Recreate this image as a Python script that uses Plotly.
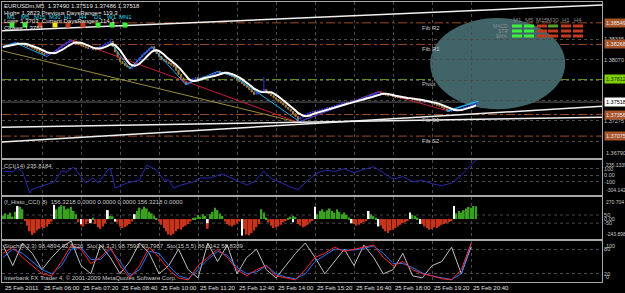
import plotly.graph_objects as go
import pandas as pd
import numpy as np

W, H = 625, 293

# ---------------- data ----------------
tick_idx = [0, 16, 32, 48, 64, 80, 96, 112, 128, 144, 160, 176, 192]
tick_labels = ["25 Feb 2011", "25 Feb 06:00", "25 Feb 07:20", "25 Feb 08:40", "25 Feb 10:00",
               "25 Feb 11:20", "25 Feb 12:40", "25 Feb 14:00", "25 Feb 15:20", "25 Feb 16:40",
               "25 Feb 18:00", "25 Feb 19:20", "25 Feb 20:40"]

close = [1.38235, 1.38250, 1.38262, 1.38270, 1.38285, 1.38292,
         1.38280, 1.38268, 1.38275, 1.38255, 1.38245, 1.38238,
         1.38220, 1.38205, 1.38190, 1.38170, 1.38150, 1.38135,
         1.38145, 1.38160, 1.38150, 1.38175,
         1.38200, 1.38225, 1.38250, 1.38268, 1.38290, 1.38305, 1.38318,
         1.38300, 1.38285, 1.38270, 1.38255, 1.38238,
         1.38225, 1.38215, 1.38220, 1.38205, 1.38199,
         1.38215, 1.38240, 1.38262, 1.38280, 1.38295, 1.38305,
         1.38240, 1.38170, 1.38100, 1.38044,
         1.38020, 1.37995, 1.37975, 1.37954,
         1.37985, 1.38020, 1.38060, 1.38100, 1.38135,
         1.38160, 1.38185, 1.38215, 1.38238,
         1.38200, 1.38150, 1.38110, 1.38070,
         1.38055, 1.38040, 1.38020, 1.38000, 1.37980,
         1.37930, 1.37880, 1.37830, 1.37790, 1.37747,
         1.37770, 1.37795, 1.37820, 1.37837,
         1.37820, 1.37830, 1.37845, 1.37830, 1.37840,
         1.37860, 1.37880, 1.37900, 1.37915,
         1.37905, 1.37890, 1.37900, 1.37880, 1.37865, 1.37850,
         1.37830, 1.37805, 1.37785, 1.37760, 1.37734,
         1.37710, 1.37680, 1.37650, 1.37617,
         1.37640, 1.37660, 1.37650, 1.37682,
         1.37650, 1.37625, 1.37600, 1.37575, 1.37553,
         1.37530, 1.37505, 1.37480, 1.37450, 1.37424,
         1.37400, 1.37365, 1.37330, 1.37294,
         1.37320, 1.37340, 1.37355, 1.37370, 1.37385,
         1.37395, 1.37380, 1.37405, 1.37415, 1.37424,
         1.37430, 1.37445, 1.37440, 1.37460, 1.37470, 1.37480, 1.37490, 1.37501,
         1.37510, 1.37505, 1.37520, 1.37530, 1.37525, 1.37540, 1.37553,
         1.37565, 1.37580, 1.37575, 1.37595, 1.37610, 1.37620, 1.37635, 1.37650,
         1.37630, 1.37620, 1.37610, 1.37600, 1.37605, 1.37590, 1.37579,
         1.37575, 1.37570, 1.37580, 1.37565, 1.37560, 1.37565, 1.37553,
         1.37545, 1.37540, 1.37530, 1.37535, 1.37520, 1.37525, 1.37514,
         1.37500, 1.37490, 1.37475, 1.37465, 1.37450,
         1.37430, 1.37415, 1.37398,
         1.37405, 1.37415, 1.37410, 1.37424,
         1.37435, 1.37445, 1.37455, 1.37465, 1.37475,
         1.37490, 1.37518]

# typed wick extremes (bar index -> price)
spike_idx = [44, 121, 107]
spike_val = [1.38345, 1.37255, 1.37840]

ma_period = 6

zig_cyan_idx = [0, 5, 18]
zig_cyan_val = [1.38238, 1.38290, 1.38110]
zig_blue_idx = [18, 28]
zig_blue_val = [1.38110, 1.38329]
zig_cyan2_idx = [44, 52, 61, 75, 88, 95, 122]
zig_cyan2_val = [1.38303, 1.37954, 1.38238, 1.37747, 1.37915, 1.37850, 1.37255]
zig_blue2_idx = [121, 154]
zig_blue2_val = [1.37255, 1.37650]
zig_red_idx = [28, 121, 154, 183]
zig_red_val = [1.38329, 1.37255, 1.37655, 1.37398]
zig_cyan3_idx = [182, 195]
zig_cyan3_val = [1.37398, 1.37530]
olive_idx = [-0.4, 121]
olive_val = [1.38186, 1.37255]

chan_idx = [-0.4, 245.7]
chan_top = [1.38445, 1.38781]
chan_mid = [1.37191, 1.37320]
chan_low = [1.36997, 1.37462]

pivot_names = ["Fib R2", "Fib R1", "Pivot", "Fib S1", "Fib S2"]
pivot_vals = [1.38549, 1.38268, 1.37812, 1.37356, 1.37075]
pivot_labels = ["1.38549", "1.38268", "1.37812", "1.37356", "1.37075"]
bid = 1.37518

price_ticks = [1.38335, 1.38070, 1.37805, 1.37540, 1.37275, 1.37010]
price_tick_text = ["1.38335", "1.38070", "", "", "1.37275", ""]
price_min, price_max = 1.36790, 1.38820

cci_idx = [0, 4, 6, 8, 11, 12, 16, 21, 24, 26, 29, 34, 37, 39, 43, 44, 46, 51, 56, 59, 63, 66, 68, 70, 73,
           78, 81, 85, 90, 95, 100, 103, 107, 110, 114, 118, 121, 124, 128, 132, 136, 140, 144, 148, 152,
           156, 160, 164, 168, 172, 176, 180, 184, 188, 191, 194]
cci_val = [65, 50, 112, 50, -273, -212, -166, -104, 65, 50, 127, -119, -42, -119, 81, 112, -196, -119, -73,
           158, 81, -73, -73, -196, -150, -104, -42, -42, 20, -60, -150, -100, 60, -50, -120, -180, -220,
           -120, 20, 80, 60, 100, 40, 90, 130, 40, -60, -20, -100, -80, -130, -160, -120, 0, 120, 235]
cci_max, cci_min = 235.1339, -304.142

hist = [40, 70, 55, 80,
        30, 90, 140, 150, 120,
        -20, -80, -150, -195, -170, -140, -120, -100, -110, -90, -60, -30,
        170,
        120, 150, 170, 160, 120, 130, 150, 100, 60,
        -40, -80, -90, -60, -30,
        -50, 20,
        -60, -100, -120, -90, -50,
        100,
        40, 35,
        -30,
        -40, -90, -110, -100, -80, -60, -30,
        40, 100, 140, 120, 150, 130, 90, 70, 40,
        10,
        -30, -70, -110, -150, -190, -200, -180, -150, -120, -130, -100, -80, -60, -30,
        10,
        20, 50, 30, 60, 40,
        -120,
        60, 90, 140, 110, 70, 40,
        -30, -60, -80, -90, -70, -50, -30,
        -200,
        -120, -190, -200, -170, -140, -100, -60,
        120, 80,
        20,
        -40, -80, -110, -100, -90, -70, -40,
        -20, 10,
        30, 40, 25,
        -60, -80,
        -100, -90, -70, -40, -20,
        30, 60, 100, 120, 90, 110, 130, 100, 80, 120, 90, 60, 80, 50, 20,
        -30, -60, -80, -70, -50, -40, -20,
        30, 60, 40, 20,
        -40, -80, -120, -150, -170, -140, -130, -110, -90, -70, -50, -40, -20,
        30, 50, 40, 20,
        -30, -60, -90, -110, -130, -120, -100, -110, -90, -70, -60, -50, -40, -20,
        40, 70, 100, 80, 110, 130, 150, 140, 160, 156]
hist_white_idx = [6, 21, 32, 36, 43, 46, 54, 84, 98, 119, 128, 143, 150, 154, 167, 171, 185]
hist_white_val = [160, 175, -60, -50, 110, -30, 60, -50, -200, -40, 150, -50, 100, -90, 80, -60, 160]
hist_max, hist_min = 270.704, -243.898

stoch_idx = list(range(0, 196, 4))
stoch_red = [70, 85, 60, 40, 20, 15, 50, 90, 80, 45, 60, 85, 40, 10, 40, 85, 60, 30, 10, 5, 40, 60, 80, 60, 30,
             15, 30, 40, 15, 10, 5, 30, 60, 70, 85, 75, 80, 85, 90, 60, 40, 50, 30, 20, 15, 8, 5, 30, 95]
stoch_blue = [60, 80, 70, 50, 30, 20, 40, 80, 85, 55, 55, 80, 50, 15, 30, 75, 70, 40, 15, 8, 30, 55, 75, 65, 35,
              20, 25, 40, 20, 12, 8, 20, 50, 65, 80, 78, 78, 82, 88, 70, 45, 45, 35, 22, 15, 10, 6, 20, 92]
stoch_white = [90, 40, 95, 70, 30, 60, 85, 100, 40, 20, 90, 60, 20, 50, 95, 70, 20, 40, 80, 30, 10, 95, 50, 90, 20,
               60, 80, 30, 10, 40, 70, 95, 60, 20, 50, 80, 40, 90, 60, 20, 30, 70, 15, 10, 40, 50, 85, 20, 86]

tf_names = ["M1", "M5", "M15", "M30", "H1", "H4", "D1", "W1", "MN1"]
tf_states = ["g", "g", "r", "y", "r", "r", "g", "g", "g"]
tbl_cols = ["M1", "M5", "M15", "M30", "H1", "H4"]
tbl_rows = ["MACD", "STR", "EMA"]
tbl_states = [["g", "g", "r", "d", "r", "r"],
              ["g", "g", "r", "r", "r", "r"],
              ["g", "g", "r", "r", "r", "r"]]

# ---------------- layout helpers ----------------
XL, XR = 2, 602
def py(p):
    return 1 - p / H
def pxx(p):
    return p / W

FONT = "Liberation Sans"
GRID = "#4b4b4b"
FRAME = "#a8a8a8"
TXT = "#c8c8c8"
FS = 6
state_col = {"g": "#3cf03c", "r": "#c23a1c", "y": "#f0e020", "d": "#5a9e28"}

idx = list(range(len(close)))
opn = [close[0]] + close[:-1]
high = [max(o, c) for o, c in zip(opn, close)]
low = [min(o, c) for o, c in zip(opn, close)]
for i, v in zip(spike_idx, spike_val):
    high[i] = max(high[i], v)
    low[i] = min(low[i], v)
ma = pd.Series(close).rolling(ma_period, min_periods=1).mean()

fig = go.Figure()

fig.add_trace(go.Candlestick(x=idx, open=opn, high=high, low=low, close=close,
                             increasing=dict(line=dict(color="#3434d8", width=1), fillcolor="#3434d8"),
                             decreasing=dict(line=dict(color="#a57a3c", width=1), fillcolor="#a57a3c"),
                             whiskerwidth=0, xaxis="x", yaxis="y", hoverinfo="skip"))

def line(xs, ys, color, width=1, ax="", dash=None):
    fig.add_trace(go.Scatter(x=xs, y=ys, mode="lines", line=dict(color=color, width=width, dash=dash),
                             xaxis="x" + ax, yaxis="y" + ax, hoverinfo="skip"))

line(olive_idx, olive_val, "#9a8c3c")
line(zig_red_idx, zig_red_val, "#c81e3c")
line(zig_cyan_idx, zig_cyan_val, "#20a8e8")
line(zig_blue_idx, zig_blue_val, "#7a3cd8")
line(zig_cyan2_idx, zig_cyan2_val, "#20a8e8")
line(zig_blue2_idx, zig_blue2_val, "#3040e0")
line(zig_cyan3_idx, zig_cyan3_val, "#20b8f0", 1.5)
line(list(idx), list(ma), "#ffffff", 2)
line(chan_idx, chan_top, "#f0f0f0", 1.5)
line(chan_idx, chan_mid, "#f0f0f0", 1.5)
line(chan_idx, chan_low, "#f0f0f0", 1.5)

# CCI
line(cci_idx, cci_val, "#2828b0", 1, "2")
# Histogram
hcol = ["#3aa020" if v >= 0 else "#c8341a" for v in hist]
fig.add_trace(go.Bar(x=idx, y=hist, marker=dict(color=hcol, line=dict(width=0)), width=0.7,
                     xaxis="x3", yaxis="y3", hoverinfo="skip"))
fig.add_trace(go.Bar(x=hist_white_idx, y=hist_white_val, marker=dict(color="#ffffff", line=dict(width=0)),
                     width=0.7, xaxis="x3", yaxis="y3", hoverinfo="skip"))
# Stoch
line(stoch_idx, stoch_white, "#c0c0c0", 1, "4")
line(stoch_idx, stoch_blue, "#1e78ff", 1, "4")
line(stoch_idx, stoch_red, "#ff2828", 1, "4")

xr = [-0.41, 245.7]
xcommon = dict(range=xr, showticklabels=False, ticks="", tickvals=tick_idx, showgrid=True,
               gridcolor=GRID, griddash="dot", gridwidth=1, showline=True, mirror=True,
               linecolor=FRAME, linewidth=1, zeroline=False, domain=[pxx(XL), pxx(XR)],
               fixedrange=True)
ycommon = dict(side="right", showgrid=True, gridcolor=GRID, griddash="dot", gridwidth=1,
               showline=True, mirror=True, linecolor=FRAME, linewidth=1, zeroline=False,
               ticks="", tickfont=dict(family=FONT, size=5.5, color=TXT), fixedrange=True)

fig.update_layout(
    width=W, height=H, margin=dict(l=0, r=0, t=0, b=0),
    paper_bgcolor="#000000", plot_bgcolor="#000000", showlegend=False, barmode="overlay",
    xaxis=dict(xcommon, anchor="y", rangeslider=dict(visible=False)),
    xaxis2=dict(xcommon, anchor="y2", matches="x"),
    xaxis3=dict(xcommon, anchor="y3", matches="x"),
    xaxis4=dict(xcommon, anchor="y4", matches="x"),
    yaxis=dict(ycommon, anchor="x", domain=[py(158), py(2)], range=[price_min, price_max],
               tickvals=price_ticks, ticktext=price_tick_text),
    yaxis2=dict(ycommon, anchor="x2", domain=[py(195), py(160)], range=[cci_min, cci_max],
                tickvals=[100, 0, -100], ticktext=["100", "0.00", "-100"]),
    yaxis3=dict(ycommon, anchor="x3", domain=[py(239), py(197)], range=[hist_min, hist_max],
                tickvals=[50, 0, -50], ticktext=["50", "0.00", "-50"], showgrid=False),
    yaxis4=dict(ycommon, anchor="x4", domain=[py(282), py(241)], range=[0, 100],
                tickvals=[80, 20], ticktext=["80", "20"]),
)

shapes = []
# histogram dotted levels at +/-50
for lv in [50, -50]:
    shapes.append(dict(type="line", xref="x3 domain", yref="y3", x0=0, x1=1, y0=lv, y1=lv,
                       line=dict(color=GRID, width=1, dash="dot"), layer="below"))
# pivot levels
for name, v in zip(pivot_names, pivot_vals):
    col = "#6b8e23" if name == "Pivot" else "#9a4a22"
    shapes.append(dict(type="line", xref="x domain", yref="y", x0=0, x1=1, y0=v, y1=v,
                       line=dict(color=col, width=1, dash="dashdot"), layer="below"))
shapes.append(dict(type="line", xref="x domain", yref="y", x0=0, x1=1, y0=bid, y1=bid,
                   line=dict(color="#606060", width=1), layer="below"))
# teal ellipse
shapes.append(dict(type="circle", xref="x", yref="y", x0=175.2, x1=230.6, y0=1.37424, y1=1.38613,
                   fillcolor="rgb(64,100,104)", line=dict(width=0), layer="below"))

annotations = []
def txt(x, y, s, color=TXT, size=FS, xanchor="left", yanchor="middle", bg=None):
    annotations.append(dict(x=pxx(x), y=py(y), xref="paper", yref="paper", text=s, showarrow=False,
                            xanchor=xanchor, yanchor=yanchor, font=dict(family=FONT, size=size, color=color),
                            bgcolor=bg, borderpad=0))

# pivot labels on chart
for name, v in zip(pivot_names, pivot_vals):
    annotations.append(dict(x=171, y=v, xref="x", yref="y", text=name, showarrow=False, xanchor="left",
                            yanchor="top", font=dict(family=FONT, size=FS, color=TXT)))
# right-axis colored price labels
for name, v, lab in zip(pivot_names, pivot_vals, pivot_labels):
    bg = "#7fd000" if name == "Pivot" else "#a9552b"
    fc = "#203000" if name == "Pivot" else "#e8e8e8"
    annotations.append(dict(x=pxx(604), y=v, xref="paper", yref="y", text=lab, showarrow=False,
                            xanchor="left", yanchor="middle", bgcolor=bg,
                            font=dict(family=FONT, size=5.5, color=fc), borderpad=1))
annotations.append(dict(x=pxx(604), y=bid, xref="paper", yref="y", text="%.5f" % bid, showarrow=False,
                        xanchor="left", yanchor="middle", bgcolor="#ffffff",
                        font=dict(family=FONT, size=5.5, color="#000000"), borderpad=1))
annotations.append(dict(x=pxx(604), y=price_min, xref="paper", yref="y", text="%.5f" % price_min,
                        showarrow=False, xanchor="left", yanchor="bottom",
                        font=dict(family=FONT, size=5.5, color=TXT)))
# subpanel extreme labels
for yref, vtop, vbot, st, sb in [("y2", cci_max, cci_min, "235.1339", "-304.142"),
                                 ("y3", hist_max, hist_min, "270.704", "-243.898")]:
    annotations.append(dict(x=pxx(603.5), y=vtop, xref="paper", yref=yref, text=st, showarrow=False,
                            xanchor="left", yanchor="top", font=dict(family=FONT, size=5, color=TXT)))
    annotations.append(dict(x=pxx(603.5), y=vbot, xref="paper", yref=yref, text=sb, showarrow=False,
                            xanchor="left", yanchor="bottom", font=dict(family=FONT, size=5, color=TXT)))
annotations.append(dict(x=pxx(604), y=100, xref="paper", yref="y4", text="100", showarrow=False,
                        xanchor="left", yanchor="top", font=dict(family=FONT, size=5.5, color=TXT)))
annotations.append(dict(x=pxx(604), y=0, xref="paper", yref="y4", text="0", showarrow=False,
                        xanchor="left", yanchor="bottom", font=dict(family=FONT, size=5.5, color=TXT)))

# time labels
for i, lab in zip(tick_idx, tick_labels):
    annotations.append(dict(x=i, y=py(288), xref="x", yref="paper", text=lab, showarrow=False,
                            xanchor="left", yanchor="middle", font=dict(family=FONT, size=FS, color="#e0e0e0")))

# top-left info
txt(3, 6, "EURUSDm,M5  1.37490 1.37519 1.37486 1.37518", "#e8e8e8")
txt(3, 13, "High= 1.3823 Previous DaysRange= 119.3", "#e8e8e8")
txt(3, 21, "Low= 1.3703  Current DaysRange= 114.1", "#e8e8e8")
txt(3, 28, "Close= 1.3751", "#e8e8e8")
tf_x = [12, 25, 40, 55, 68, 83, 98, 112, 125]
for x, n, s in zip(tf_x, tf_names, tf_states):
    txt(x, 17, n, "#30d8e8", xanchor="center")
    shapes.append(dict(type="rect", xref="paper", yref="paper", x0=pxx(x - 2.5), x1=pxx(x + 2.5),
                       y0=py(27.5), y1=py(22.5), fillcolor=state_col[s], line=dict(width=0), layer="above"))

# signal table
col_x = [517, 529, 542, 553, 566, 578]
row_y = [26, 31, 36]
for cx, cn in zip(col_x, tbl_cols):
    txt(cx, 20, cn, "#8c8c8c", xanchor="center")
for ry, rn, states in zip(row_y, tbl_rows, tbl_states):
    txt(509, ry, rn, "#8c8c8c", size=5, xanchor="right")
    for cx, s in zip(col_x, states):
        shapes.append(dict(type="rect", xref="paper", yref="paper", x0=pxx(cx - 5), x1=pxx(cx + 5),
                           y0=py(ry + 1.5), y1=py(ry - 1.5), fillcolor=state_col[s], line=dict(width=0),
                           layer="above"))

# sub-window titles
txt(3, 166, "CCI(14) 235.8184")
txt(3, 202, "(f_Histo_CCI) 8)  156.3218 0.0000 0.0000 0.0000 156.3218 0.0000")
txt(3, 246, "Stoch(5,3,3) 98.4894 92.3226  Sto(14,3,3) 98.7593 93.7987  Sto(15,5,5) 86.6142 58.8389")
txt(3, 278, "Interbank FX Trader 4, \u00a9 2001-2009 MetaQuotes Software Corp.")

fig.update_layout(shapes=shapes, annotations=annotations)
fig.write_html("out.html")
